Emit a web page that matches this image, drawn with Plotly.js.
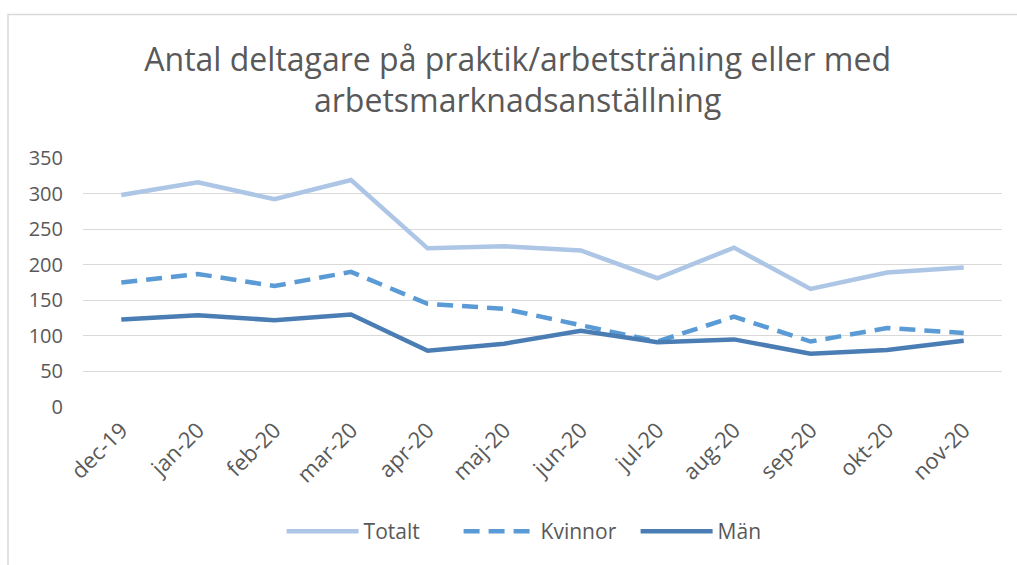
<!DOCTYPE html>
<html>
<head>
<meta charset="utf-8">
<script src="https://cdn.plot.ly/plotly-3.0.1.min.js"></script>
<style>html,body{margin:0;padding:0;background:#fff}#chart{width:1017px;height:565px}</style>
</head>
<body>
<div id="chart"></div>
<script>
const months = ["dec-19","jan-20","feb-20","mar-20","apr-20","maj-20","jun-20","jul-20","aug-20","sep-20","okt-20","nov-20"];
const totalt = [298, 316, 292, 319, 223, 226, 220, 181, 224, 166, 189, 196];
const kvinnor = [175, 187, 170, 190, 145, 138, 115, 92, 127, 92, 111, 104];
const man = [123, 129, 122, 130, 79, 89, 107, 91, 95, 75, 80, 93];
const yTicks = [0, 50, 100, 150, 200, 250, 300, 350];

const font = "'Open Sans', Lato, sans-serif";
const grey = "#595959";

const traces = [
  {x: months, y: totalt, name: "Totalt", type: "scatter", mode: "lines",
   line: {color: "#adc6e5", width: 4.5}},
  {x: months, y: kvinnor, name: "Kvinnor", type: "scatter", mode: "lines",
   line: {color: "#5b9bd5", width: 4.5, dash: "16px,9px"}},
  {x: months, y: man, name: "Män", type: "scatter", mode: "lines",
   line: {color: "#4a7db4", width: 4.5}}
];

const layout = {
  width: 1017, height: 565,
  paper_bgcolor: "#fff", plot_bgcolor: "#fff",
  margin: {l: 83, r: 15, t: 158, b: 158},
  font: {family: font, color: grey, size: 20},
  title: {
    text: "Antal deltagare på praktik/arbetsträning eller med<br>arbetsmarknadsanställning",
    font: {family: font, size: 32, color: grey},
    x: 0.509, xanchor: "center", xref: "container",
    y: 0.875, yanchor: "middle", yref: "container"
  },
  xaxis: {
    type: "category", range: [-0.5, 11.5], tickangle: -45, showgrid: false, showline: false,
    zeroline: false, ticks: "", ticklabelstandoff: 5,
    tickfont: {size: 22, color: grey, family: font}
  },
  yaxis: {
    range: [0, 350], tickvals: yTicks, showgrid: true, gridcolor: "#d9d9d9", gridwidth: 1.3,
    zeroline: false, showline: false, ticks: "", ticklabelstandoff: 19,
    tickfont: {size: 20, color: grey, family: font}
  },
  showlegend: true,
  legend: {
    orientation: "h", x: 0.505, xanchor: "center", y: -0.5, yanchor: "middle",
    itemwidth: 72, entrywidth: 90, font: {size: 21, color: grey, family: font}, tracegroupgap: 0
  },
  shapes: [
    {type: "rect", xref: "paper", yref: "paper", x0: -0.0816, x1: 1.1, y0: -0.8, y1: 1.576,
     line: {color: "#d9d9d9", width: 1.5}, fillcolor: "rgba(0,0,0,0)", layer: "below"}
  ]
};

Plotly.newPlot("chart", traces, layout, {displayModeBar: false, responsive: false});
</script>
</body>
</html>
